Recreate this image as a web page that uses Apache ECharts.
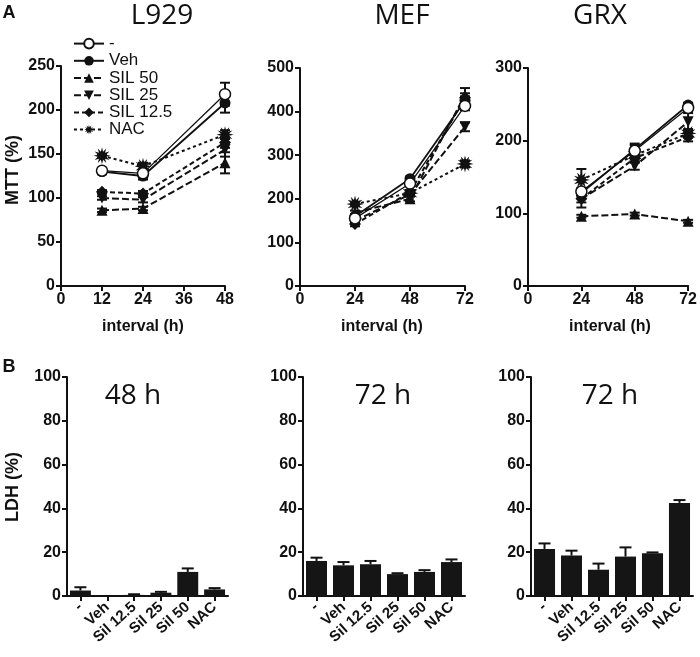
<!DOCTYPE html>
<html>
<head>
<meta charset="utf-8">
<script src="https://cdn.jsdelivr.net/npm/echarts@6/dist/echarts.min.js"></script>
<style>html,body{margin:0;padding:0;background:#fff;}#c{width:700px;height:657px;}</style>
</head>
<body>
<div id="c"></div>
<script>
// ---------- DATA ----------
const seriesNames = ['-', 'Veh', 'SIL 50', 'SIL 25', 'SIL 12.5', 'NAC'];
const panelTitles = ['L929', 'MEF', 'GRX'];
const barTitles = ['48 h', '72 h', '72 h'];

const l929Hours = [12, 24, 48];
const l929Ctrl = [131, 128, 218];
const l929Veh = [130, 125, 208];
const l929Sil50 = [86, 88, 140];
const l929Sil25 = [100, 98, 155];
const l929Sil125 = [107, 105, 163];
const l929Nac = [148, 136, 172];
const l929CtrlErr = [3, 4, 13];
const l929VehErr = [3, 4, 11];
const l929Sil50Err = [2, 2, 12];
const l929Sil25Err = [2, 3, 8];
const l929Sil125Err = [2, 3, 6];
const l929NacErr = [2, 4, 5];

const mefHours = [24, 48, 72];
const mefCtrl = [155, 235, 413];
const mefVeh = [160, 246, 425];
const mefSil50 = [168, 200, 438];
const mefSil25 = [150, 210, 365];
const mefSil125 = [142, 215, 432];
const mefNac = [188, 213, 280];
const mefCtrlErr = [5, 5, 10];
const mefVehErr = [5, 5, 10];
const mefSil50Err = [5, 6, 16];
const mefSil25Err = [5, 5, 10];
const mefSil125Err = [5, 5, 10];
const mefNacErr = [5, 5, 8];

const grxHours = [24, 48, 72];
const grxCtrl = [130, 186, 245];
const grxVeh = [128, 188, 249];
const grxSil50 = [96, 99, 89];
const grxSil25 = [120, 165, 226];
const grxSil125 = [120, 176, 205];
const grxNac = [146, 180, 210];
const grxCtrlErr = [5, 8, 4];
const grxVehErr = [5, 8, 3];
const grxSil50Err = [2, 2, 2];
const grxSil25Err = [5, 5, 12];
const grxSil125Err = [12, 6, 6];
const grxNacErr = [15, 6, 6];

const barCategories = ['-', 'Veh', 'Sil 12.5', 'Sil 25', 'Sil 50', 'NAC'];
const ldhL929 = [2.5, 0, 0.5, 1.5, 11, 3];
const ldhL929Err = [1.5, 0, 0.3, 0.4, 1.6, 0.6];
const ldhMef = [16, 14, 14.5, 10, 11, 15.5];
const ldhMefErr = [1.5, 1.5, 1.5, 0.4, 0.8, 1.2];
const ldhGrx = [21.5, 18.5, 12, 18, 19.5, 42.5];
const ldhGrxErr = [2.5, 2.2, 2.8, 4.2, 0.4, 1.3];

// ---------- STYLE ----------
const INK = '#111';
const FONT = '"Liberation Sans", Arial, sans-serif';
const STAR = 'path://M20,10 L14.83,11.29 L18.66,15 L13.54,13.54 L15,18.66 L11.29,14.83 L10,20 L8.71,14.83 L5,18.66 L6.46,13.54 L1.34,15 L5.17,11.29 L0,10 L5.17,8.71 L1.34,5 L6.46,6.46 L5,1.34 L8.71,5.17 L10,0 L11.29,5.17 L15,1.34 L13.54,6.46 L18.66,5 L14.83,8.71 Z';
const seriesStyle = [
  {symbol: 'circle', size: 11, fill: '#fff', line: 'solid', width: 1.3, rotate: 0},
  {symbol: 'circle', size: 11, fill: INK, line: 'solid', width: 1.8, rotate: 0},
  {symbol: 'triangle', size: 11, fill: INK, line: [7, 3], width: 2, rotate: 0},
  {symbol: 'triangle', size: 11, fill: INK, line: [7, 3], width: 2, rotate: 180},
  {symbol: 'diamond', size: 12, fill: INK, line: [5, 3], width: 2, rotate: 0},
  {symbol: STAR, size: 17, fill: INK, line: [3, 3], width: 2, rotate: 0}
];

const grids = [
  {left: 61, top: 66, width: 164, height: 220},
  {left: 300, top: 68, width: 165, height: 218},
  {left: 528, top: 68, width: 163, height: 218},
  {left: 67, top: 377, width: 161, height: 219},
  {left: 303, top: 377, width: 162, height: 219},
  {left: 531, top: 377, width: 162, height: 219}
];

const axisCommon = {
  axisLine: {show: true, lineStyle: {color: INK, width: 2}},
  axisTick: {show: true, lineStyle: {color: INK, width: 2}, length: 5},
  axisLabel: {color: INK, fontFamily: FONT, fontWeight: 'bold', fontSize: 16, margin: 6},
  splitLine: {show: false}
};

function valAxis(max, interval) {
  return Object.assign({type: 'value', min: 0, max: max, interval: interval}, JSON.parse(JSON.stringify(axisCommon)));
}

const xAxes = [valAxis(48, 12), valAxis(72, 24), valAxis(72, 24)];
const yAxes = [valAxis(250, 50), valAxis(500, 100), valAxis(300, 100)];
for (let i = 0; i < 3; i++) {
  const xa = Object.assign({type: 'category', data: barCategories}, JSON.parse(JSON.stringify(axisCommon)));
  xa.axisTick.alignWithLabel = true;
  xa.axisLabel.rotate = 42;
  xa.axisLabel.fontSize = 15;
  xa.axisLabel.margin = 9;
  xa.axisLabel.interval = 0;
  xAxes.push(xa);
  yAxes.push(valAxis(100, 20));
}
xAxes.forEach((a, i) => { a.gridIndex = i; });
yAxes.forEach((a, i) => { a.gridIndex = i; });

function errRender(capW, upOnly) {
  return function (params, api) {
    const x = api.value(0), y = api.value(1), e = api.value(2);
    if (!e) return null;
    const top = api.coord([x, y + e]);
    const bot = api.coord(upOnly ? [x, y] : [x, y - e]);
    const st = {stroke: INK, lineWidth: 2};
    const children = [
      {type: 'line', shape: {x1: top[0], y1: top[1], x2: bot[0], y2: bot[1]}, style: st},
      {type: 'line', shape: {x1: top[0] - capW / 2, y1: top[1], x2: top[0] + capW / 2, y2: top[1]}, style: st}
    ];
    if (!upOnly) children.push({type: 'line', shape: {x1: bot[0] - capW / 2, y1: bot[1], x2: bot[0] + capW / 2, y2: bot[1]}, style: st});
    return {type: 'group', children: children};
  };
}

const series = [];
const linePanels = [
  {hours: l929Hours, vals: [l929Ctrl, l929Veh, l929Sil50, l929Sil25, l929Sil125, l929Nac], errs: [l929CtrlErr, l929VehErr, l929Sil50Err, l929Sil25Err, l929Sil125Err, l929NacErr]},
  {hours: mefHours, vals: [mefCtrl, mefVeh, mefSil50, mefSil25, mefSil125, mefNac], errs: [mefCtrlErr, mefVehErr, mefSil50Err, mefSil25Err, mefSil125Err, mefNacErr]},
  {hours: grxHours, vals: [grxCtrl, grxVeh, grxSil50, grxSil25, grxSil125, grxNac], errs: [grxCtrlErr, grxVehErr, grxSil50Err, grxSil25Err, grxSil125Err, grxNacErr]}
];
linePanels.forEach((p, gi) => {
  p.vals.forEach((vals, si) => {
    series.push({
      type: 'custom', xAxisIndex: gi, yAxisIndex: gi, z: 1, silent: true,
      renderItem: errRender(10, false),
      data: p.hours.map((h, k) => [h, vals[k], p.errs[si][k]])
    });
  });
  for (let si = p.vals.length - 1; si >= 0; si--) {
    const st = seriesStyle[si];
    series.push({
      name: seriesNames[si], type: 'line', xAxisIndex: gi, yAxisIndex: gi, z: 2,
      symbol: st.symbol, symbolSize: st.size, symbolRotate: st.rotate, showAllSymbol: true,
      lineStyle: {color: INK, width: st.width, type: st.line},
      itemStyle: {color: st.fill, borderColor: INK, borderWidth: st.fill === '#fff' ? 1.5 : 0},
      data: p.hours.map((h, k) => [h, p.vals[si][k]]),
      animation: false
    });
  }
});

const barPanels = [[ldhL929, ldhL929Err], [ldhMef, ldhMefErr], [ldhGrx, ldhGrxErr]];
barPanels.forEach((bp, i) => {
  const gi = 3 + i;
  series.push({
    type: 'bar', xAxisIndex: gi, yAxisIndex: gi, data: bp[0], barCategoryGap: '22%',
    itemStyle: {color: '#151515'}, z: 2, animation: false
  });
  series.push({
    type: 'custom', xAxisIndex: gi, yAxisIndex: gi, z: 1, silent: true,
    renderItem: errRender(12, true),
    data: bp[0].map((v, k) => [k, v, bp[1][k]])
  });
});

const graphics = [];
function txt(x, y, s, size, weight, rot, family) {
  graphics.push({
    type: 'text', x: x, y: y, rotation: rot || 0,
    style: {text: s, fill: INK, font: (weight || 'normal') + ' ' + size + 'px ' + (family || FONT), textAlign: 'center', textVerticalAlign: 'middle'}
  });
}
const TFONT = '"Open Sans", "Noto Sans", sans-serif';
txt(162, 16, panelTitles[0], 28, 'normal', 0, TFONT);
txt(402, 16, panelTitles[1], 28, 'normal', 0, TFONT);
txt(600, 16, panelTitles[2], 28, 'normal', 0, TFONT);
txt(133, 396, barTitles[0], 28, 'normal', 0, TFONT);
txt(383, 396, barTitles[1], 28, 'normal', 0, TFONT);
txt(610, 396, barTitles[2], 28, 'normal', 0, TFONT);
txt(143, 327, 'interval (h)', 16, 'bold');
txt(382, 327, 'interval (h)', 16, 'bold');
txt(610, 327, 'interval (h)', 16, 'bold');
txt(13, 170, 'MTT (%)', 18, 'bold', Math.PI / 2);
txt(13, 487, 'LDH (%)', 18, 'bold', Math.PI / 2);
txt(9, 13, 'A', 18, 'bold');
txt(9, 367, 'B', 18, 'bold');

const chart = echarts.init(document.getElementById('c'), null, {renderer: 'canvas'});
chart.setOption({
  animation: false,
  backgroundColor: '#fff',
  grid: grids,
  xAxis: xAxes,
  yAxis: yAxes,
  legend: {
    orient: 'vertical', left: 73, top: 35, itemWidth: 30, itemHeight: 12, itemGap: 0,
    data: seriesNames, selectedMode: false, padding: 0,
    textStyle: {color: INK, fontFamily: FONT, fontSize: 17, lineHeight: 17.2}
  },
  series: series,
  graphic: graphics
});
</script>
</body>
</html>
